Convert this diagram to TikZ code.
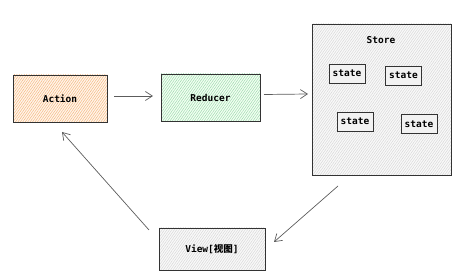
\documentclass[tikz,border=0pt]{standalone}
\usepackage{fontspec}
\setmonofont{DejaVu Sans Mono}
\newfontfamily\cjk{Noto Sans CJK SC}
\usetikzlibrary{patterns.meta,arrows.meta}
\definecolor{edge}{HTML}{333333}
\definecolor{orangeh}{HTML}{F5B57A}
\definecolor{greenh}{HTML}{9BD8AC}
\definecolor{grayh}{HTML}{D6D6D6}
\tikzset{
  x=1pt,y=-1pt,
  lbl/.style={font=\ttfamily\bfseries\fontsize{9.5}{11}\selectfont,text=black},
  box/.style={draw=edge,line width=0.8pt},
  hatch/.style 2 args={preaction={fill=#2},pattern={Lines[angle=55,distance=2pt,line width=0.45pt]},pattern color=#1},
  conn/.style={draw=edge!80,line width=0.7pt,-{Straight Barb[length=7pt,width=9pt,line width=0.7pt]}},
}
\begin{document}
\begin{tikzpicture}
\useasboundingbox (0,0) rectangle (469,280);
% boxes
\node[box,hatch={orangeh}{orange!8},minimum width=94pt,minimum height=47pt,lbl] (action) at (60,98.5) {Action};
\node[box,hatch={greenh}{green!5},minimum width=99pt,minimum height=47pt,lbl] (reducer) at (210.5,97.5) {Reducer};
\node[box,hatch={grayh}{gray!5},minimum width=139pt,minimum height=151pt] (store) at (381.5,99.5) {};
\node[lbl] (storelbl) at (381,40) {Store};
\node[box,hatch={grayh}{gray!5},minimum width=106pt,minimum height=42pt,lbl] (view) at (212,249) {View[{\cjk 视图}]};
% states
\tikzset{st/.style={draw=edge,line width=0.8pt,fill=gray!10,minimum width=36pt,minimum height=19pt,inner sep=0pt,lbl}}
\node[st] (s1) at (347,73.5) {state};
\node[st] (s2) at (403.5,75.5) {state};
\node[st] (s3) at (355,121.5) {state};
\node[st] (s4) at (419,124) {state};
% connectors
\coordinate (a1) at (114,96);
\coordinate (a2) at (153,96);
\draw[conn] (a1) -- (a2);
\coordinate (b1) at (264,94.5);
\coordinate (b2) at (308,94);
\draw[conn] (b1) -- (b2);
\coordinate (c1) at (338,186);
\coordinate (c2) at (274,242);
\draw[conn] (c1) -- (c2);
\coordinate (d1) at (149,230);
\coordinate (d2) at (62,132);
\draw[conn] (d1) -- (d2);
\end{tikzpicture}
\end{document}
